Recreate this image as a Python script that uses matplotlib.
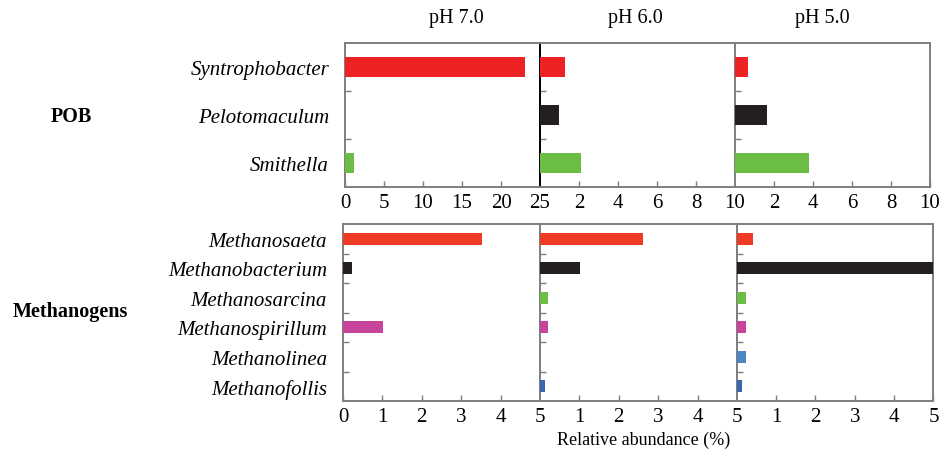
import numpy as np
import matplotlib
matplotlib.use("Agg")
import matplotlib.pyplot as plt

plt.rcParams['font.family'] = ['Liberation Serif', 'DejaVu Serif']

# pH conditions (panels)
conditions = ["pH 7.0", "pH 6.0", "pH 5.0"]

# propionate-oxidizing bacteria
pob_names = ["Syntrophobacter", "Pelotomaculum", "Smithella"]
pob_ph7 = [23.1, 0.0, 1.15]
pob_ph6 = [1.28, 0.99, 2.09]
pob_ph5 = [0.66, 1.62, 3.8]
pob_colors = ["#ED2224", "#231F20", "#6CBD45"]
pob_xmax = [25, 10, 10]
pob_xticks = [[0, 5, 10, 15, 20, 25], [2, 4, 6, 8, 10], [2, 4, 6, 8, 10]]

# methanogens
meth_names = ["Methanosaeta", "Methanobacterium", "Methanosarcina",
              "Methanospirillum", "Methanolinea", "Methanofollis"]
meth_ph7 = [3.54, 0.22, 0.0, 1.02, 0.0, 0.0]
meth_ph6 = [2.61, 1.02, 0.2, 0.2, 0.0, 0.12]
meth_ph5 = [0.41, 5.0, 0.24, 0.24, 0.24, 0.13]
meth_colors = ["#EF3A24", "#231F20", "#6CBD45", "#C8449B", "#4E86C5", "#3B66B0"]
meth_xmax = [5, 5, 5]
meth_xticks = [[0, 1, 2, 3, 4, 5], [1, 2, 3, 4, 5], [1, 2, 3, 4, 5]]

W, H = 943, 452
fig = plt.figure(figsize=(W / 100, H / 100), dpi=100)

spine_gray = "#7F7F7F"


def panel(rect, names, values, colors, xmax, xticks, show_labels, bar_h):
    ax = fig.add_axes(rect)
    n = len(names)
    y = np.arange(n)
    ax.barh(y, values, height=bar_h, color=colors, zorder=3)
    ax.set_xlim(0, xmax)
    ax.set_ylim(n - 0.5, -0.5)
    ax.set_xticks(xticks)
    ax.set_xticklabels([str(t) for t in xticks], fontsize=15)
    ax.set_yticks(y)
    if show_labels:
        ax.set_yticklabels(names, fontsize=15, style="italic")
    else:
        ax.set_yticklabels([])
    ax.set_yticks(np.arange(n - 1) + 0.5, minor=True)
    ax.tick_params(axis="y", which="major", length=0, pad=11.5)
    ax.tick_params(axis="y", which="minor", direction="in", length=4.5,
                   width=1, color=spine_gray)
    ax.tick_params(axis="x", direction="in", length=4.5, width=1,
                   color=spine_gray, pad=4.5)
    for s in ax.spines.values():
        s.set_color(spine_gray)
        s.set_linewidth(1.4)
    return ax


top_lefts = [345, 540, 735]
top_w = 195
pob_vals = [pob_ph7, pob_ph6, pob_ph5]
top_axes = []
for i in range(3):
    rect = [top_lefts[i] / W, 1 - 188 / H, top_w / W, 144 / H]
    ax = panel(rect, pob_names, pob_vals[i], pob_colors, pob_xmax[i],
               pob_xticks[i], i == 0, 0.42)
    top_axes.append(ax)
top_axes[1].spines["left"].set_color("black")

bot_lefts = [343, 540, 736.5]
bot_w = 197
meth_vals = [meth_ph7, meth_ph6, meth_ph5]
for i in range(3):
    rect = [bot_lefts[i] / W, 1 - 402 / H, bot_w / W, 177 / H]
    panel(rect, meth_names, meth_vals[i], meth_colors, meth_xmax[i],
          meth_xticks[i], i == 0, 0.4)

# panel titles
title_x = [456, 635, 822]
for x, t in zip(title_x, conditions):
    fig.text(x / W, 1 - 19 / H, t, ha="center", va="center", fontsize=14.5)

# group labels
fig.text(71 / W, 1 - 117 / H, "POB", ha="center", va="center",
         fontsize=14.5, fontweight="bold")
fig.text(70 / W, 1 - 312 / H, "Methanogens", ha="center", va="center",
         fontsize=14.5, fontweight="bold")

fig.text(644 / W, 1 - 440 / H, "Relative abundance (%)", ha="center",
         va="center", fontsize=13)

fig.savefig("out.png", dpi=100)
